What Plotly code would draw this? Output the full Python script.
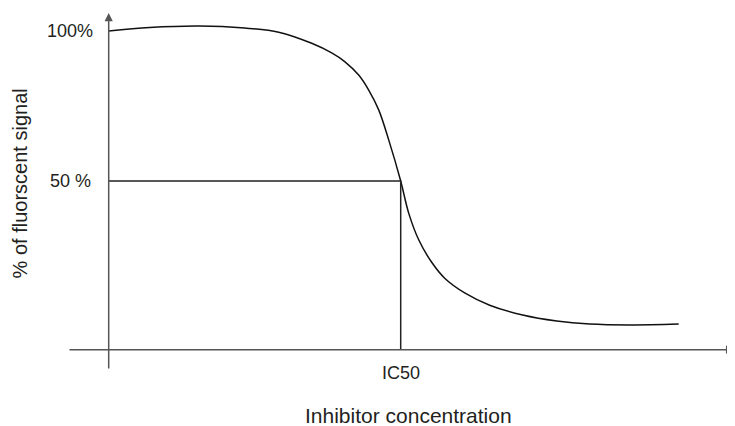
import plotly.graph_objects as go

# Dose-response curve (x: inhibitor concentration, arbitrary units; y: % of fluorescent signal)
conc = [0, 41, 91, 136, 170, 203, 223, 236, 250, 260, 270, 280, 292, 300, 310,
        323, 336, 356, 381, 414, 448, 481, 521, 570]
signal = [100, 101.2, 101.7, 101, 99.6, 95.9, 92.7, 89.8, 85.3, 80.3, 73.7, 63.7,
          50, 39.3, 30.4, 22.9, 17.6, 12.7, 8.6, 5.3, 3.3, 2.3, 2, 2.3]

ic50_x = 292
half_signal = 50
y_tick_vals = [100, 50]
y_tick_text = ["100%", "50 %"]
x_tick_text = "IC50"

# axis geometry (data units)
x_axis_level = -6.23
x_axis_start, x_axis_end = -40.7, 625.5
y_axis_bottom, y_axis_top = -13, 106

FONT = "Liberation Sans, Arial, Helvetica, sans-serif"
TXT = "#231f20"

fig = go.Figure()

fig.add_trace(go.Scatter(
    x=conc, y=signal, mode="lines",
    line=dict(color="#111111", width=1.5, shape="spline", smoothing=1.0),
    hoverinfo="skip", showlegend=False))

fig.add_trace(go.Scatter(
    x=[0, ic50_x, ic50_x], y=[half_signal, half_signal, x_axis_level], mode="lines",
    line=dict(color="#222222", width=1.5),
    hoverinfo="skip", showlegend=False))

annotations = [
    dict(x=0, y=y_axis_top, ax=0, ay=y_axis_bottom, xref="x", yref="y",
         axref="x", ayref="y", showarrow=True, arrowhead=2, arrowsize=1.1,
         arrowwidth=1.5, arrowcolor="#555555", text=""),
    dict(x=x_axis_end, y=x_axis_level, ax=x_axis_start, ay=x_axis_level,
         xref="x", yref="y", axref="x", ayref="y", showarrow=True,
         arrowhead=2, arrowsize=1.1, arrowwidth=1.5, arrowcolor="#555555", text=""),
]
for v, t, xr in zip(y_tick_vals, y_tick_text, [-13.7, -15.4]):
    annotations.append(dict(x=xr, y=v, xref="x", yref="y", text=t, showarrow=False,
                            xanchor="right", yanchor="middle",
                            font=dict(family=FONT, size=18, color=TXT)))
annotations.append(dict(x=ic50_x, y=-14, xref="x", yref="y", text=x_tick_text,
                        showarrow=False, xanchor="center", yanchor="middle",
                        font=dict(family=FONT, size=18, color=TXT)))
annotations.append(dict(x=299.3, y=-28.3, xref="x", yref="y",
                        text="Inhibitor concentration", showarrow=False,
                        xanchor="center", yanchor="middle",
                        font=dict(family=FONT, size=21, color=TXT)))
annotations.append(dict(x=-88.7, y=49.2, xref="x", yref="y",
                        text="% of fluorscent signal", showarrow=False,
                        textangle=-90, xanchor="center", yanchor="middle",
                        font=dict(family=FONT, size=20, color=TXT)))

# page body has an 8px margin: figure is sized/offset to compensate
fig.update_layout(
    width=727, height=418,
    margin=dict(l=0, r=0, t=0, b=0),
    paper_bgcolor="white", plot_bgcolor="white",
    xaxis=dict(range=[-100.7, 626.3], visible=False, fixedrange=True),
    yaxis=dict(range=[-31.667, 107.667], visible=False, fixedrange=True),
    annotations=annotations,
    showlegend=False,
)

fig.write_html("out.html")
